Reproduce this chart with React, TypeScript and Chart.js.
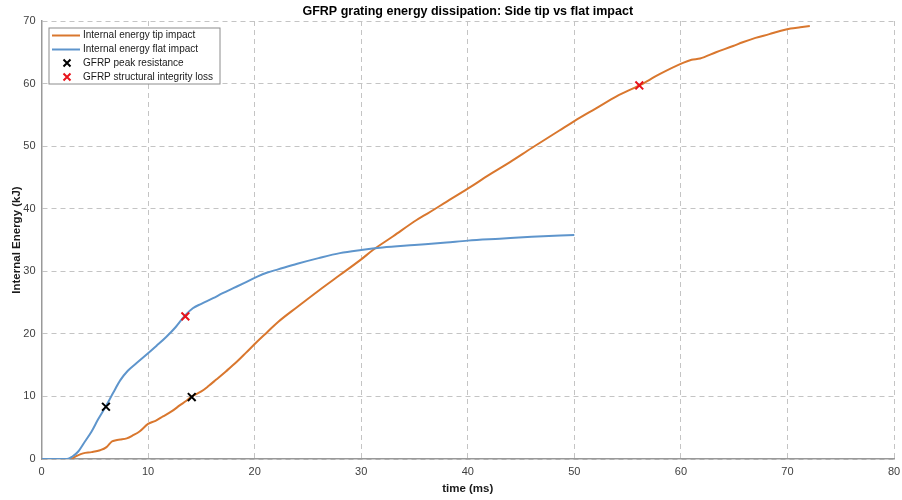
import React, { useEffect, useRef } from "react";
import { Chart, registerables } from "chart.js";

Chart.register(...registerables);

const TITLE = "GFRP grating energy dissipation: Side tip vs flat impact";
const X_LABEL = "time (ms)";
const Y_LABEL = "Internal Energy (kJ)";

const LEGEND_LABELS = [
  "Internal energy tip impact",
  "Internal energy flat impact",
  "GFRP peak resistance",
  "GFRP structural integrity loss",
];

// Tip impact (orange)
const tipTime = [0, 1, 2, 2.7, 3.3, 3.9, 4.7, 5.5, 6.1, 6.6, 7.0, 7.4, 8.0, 8.6, 9.2, 10.0, 10.7, 11.4, 12.2, 13.0, 13.6, 14.1, 15.0, 15.7, 16.4, 17.3, 18.3, 19.2, 20.2, 21.2, 22.2, 24, 26, 28, 30, 31.1, 33, 35.2, 36, 38, 40, 42, 44, 46, 48.6, 50, 52, 54, 56.1, 58, 60.2, 61.0, 61.8, 63.3, 64.9, 65.8, 67, 68.3, 69.3, 70.3, 71.2, 72.1];
const tipEnergy = [0, 0, 0, 0, 0.5, 0.9, 1.1, 1.4, 1.9, 2.8, 3.0, 3.1, 3.3, 3.8, 4.4, 5.6, 6.1, 6.8, 7.6, 8.6, 9.3, 10.0, 10.8, 11.7, 12.7, 14.0, 15.5, 17.0, 18.7, 20.3, 21.9, 24.3, 26.9, 29.4, 31.9, 33.4, 35.6, 38.2, 39.0, 41.1, 43.2, 45.4, 47.5, 49.7, 52.5, 54.0, 56.0, 58.0, 59.7, 61.5, 63.3, 63.8, 64.0, 65.0, 66.0, 66.6, 67.3, 67.9, 68.4, 68.8, 69.0, 69.2];

// Flat impact (blue)
const flatTime = [0, 1, 2, 2.4, 2.9, 3.45, 4.0, 4.7, 5.3, 6.0, 6.7, 7.4, 8.1, 8.9, 10.0, 10.8, 11.7, 12.6, 13.5, 14.2, 15.0, 16.1, 17.0, 18.0, 19.0, 20.2, 21.2, 22.2, 24, 26, 28, 30, 32, 35, 38, 40, 43, 46, 50];
const flatEnergy = [0, 0, 0, 0, 0.4, 1.2, 2.6, 4.4, 6.3, 8.3, 10.5, 12.6, 14.1, 15.3, 16.9, 18.1, 19.5, 21.1, 23.0, 24.1, 24.8, 25.7, 26.5, 27.3, 28.1, 29.1, 29.8, 30.3, 31.2, 32.1, 32.9, 33.4, 33.8, 34.2, 34.6, 34.9, 35.2, 35.5, 35.8];

// Markers
const peakTime = [6.05, 14.1];
const peakEnergy = [8.35, 9.9];
const lossTime = [13.5, 56.1];
const lossEnergy = [22.8, 59.7];

const X_TICKS = [0, 10, 20, 30, 40, 50, 60, 70, 80];
const Y_TICKS = [0, 10, 20, 30, 40, 50, 60, 70];

const ORANGE = "#D9772E";
const BLUE = "#5E95CC";
const BLACK = "#000000";
const RED = "#E8141B";
const FONT = "'Liberation Sans', Arial, sans-serif";

const toPts = (xs: number[], ys: number[]) => xs.map((x, i) => ({ x, y: ys[i] }));

function drawX(ctx: CanvasRenderingContext2D, x: number, y: number, r: number, color: string) {
  ctx.save();
  ctx.strokeStyle = color;
  ctx.lineWidth = 2;
  ctx.beginPath();
  ctx.moveTo(x - r, y - r);
  ctx.lineTo(x + r, y + r);
  ctx.moveTo(x + r, y - r);
  ctx.lineTo(x - r, y + r);
  ctx.stroke();
  ctx.restore();
}

const overlayPlugin = {
  id: "overlay",
  afterDraw(chart: any) {
    const ctx: CanvasRenderingContext2D = chart.ctx;
    const area = chart.chartArea;
    // title
    ctx.save();
    ctx.fillStyle = "#000";
    ctx.font = `bold 12.5px ${FONT}`;
    ctx.textAlign = "center";
    ctx.textBaseline = "middle";
    ctx.fillText(TITLE, (area.left + area.right) / 2, 12);
    ctx.restore();

    // legend box
    const bx = area.left + 7.5;
    const by = area.top + 7;
    const bw = 171;
    const bh = 56;
    ctx.save();
    ctx.fillStyle = "#ffffff";
    ctx.fillRect(bx, by, bw, bh);
    ctx.strokeStyle = "#8c8c8c";
    ctx.lineWidth = 1;
    ctx.strokeRect(bx, by, bw, bh);
    ctx.font = `10px ${FONT}`;
    ctx.textBaseline = "middle";
    ctx.textAlign = "left";
    const rows = [by + 7.5, by + 21.5, by + 35, by + 49];
    const styles = [
      { type: "line", color: ORANGE },
      { type: "line", color: BLUE },
      { type: "x", color: BLACK },
      { type: "x", color: RED },
    ];
    rows.forEach((ry, i) => {
      const s = styles[i];
      if (s.type === "line") {
        ctx.strokeStyle = s.color;
        ctx.lineWidth = 2;
        ctx.beginPath();
        ctx.moveTo(bx + 3, ry);
        ctx.lineTo(bx + 31, ry);
        ctx.stroke();
      } else {
        drawX(ctx, bx + 18, ry, 3.5, s.color);
      }
      ctx.fillStyle = "#1a1a1a";
      ctx.fillText(LEGEND_LABELS[i], bx + 34, ry);
    });
    ctx.restore();
  },
};

export default function App() {
  const ref = useRef<HTMLCanvasElement>(null);

  useEffect(() => {
    document.body.style.margin = "0";
    const canvas = ref.current;
    if (!canvas) return;
    const chart = new Chart(canvas, {
      type: "scatter",
      data: {
        datasets: [
          {
            label: LEGEND_LABELS[2],
            data: toPts(peakTime, peakEnergy),
            showLine: false,
            pointStyle: "crossRot",
            pointRadius: 5.5,
            pointBorderWidth: 2,
            borderColor: BLACK,
            backgroundColor: BLACK,
            order: 0,
          },
          {
            label: LEGEND_LABELS[3],
            data: toPts(lossTime, lossEnergy),
            showLine: false,
            pointStyle: "crossRot",
            pointRadius: 5.5,
            pointBorderWidth: 2,
            borderColor: RED,
            backgroundColor: RED,
            order: 0,
          },
          {
            label: LEGEND_LABELS[0],
            data: toPts(tipTime, tipEnergy),
            showLine: true,
            borderColor: ORANGE,
            backgroundColor: ORANGE,
            borderWidth: 2,
            pointRadius: 0,
            cubicInterpolationMode: "monotone",
            order: 2,
          },
          {
            label: LEGEND_LABELS[1],
            data: toPts(flatTime, flatEnergy),
            showLine: true,
            borderColor: BLUE,
            backgroundColor: BLUE,
            borderWidth: 2,
            pointRadius: 0,
            cubicInterpolationMode: "monotone",
            order: 1,
          },
        ],
      },
      options: {
        animation: false,
        responsive: false,
        maintainAspectRatio: false,
        layout: { padding: { top: 21, right: 8, left: 0, bottom: 0 } },
        plugins: {
          legend: { display: false },
          title: { display: false },
          tooltip: { enabled: false },
        },
        scales: {
          x: {
            type: "linear",
            min: 0,
            max: 80,
            afterBuildTicks: (s: any) => {
              s.ticks = X_TICKS.map((v) => ({ value: v }));
            },
            afterFit: (s: any) => {
              s.height = 41;
              s.paddingRight = 0;
              s.paddingLeft = 0;
            },
            ticks: {
              padding: 6,
              color: "#404040",
              font: { family: FONT, size: 11 },
              maxRotation: 0,
            },
            grid: {
              color: "#c4c4c4",
              lineWidth: 1,
              drawTicks: false,
            },
            border: { display: true, color: "#999999", width: 1.5, dash: [5, 4] },
            title: {
              display: true,
              text: X_LABEL,
              color: "#1a1a1a",
              font: { family: FONT, size: 11.5, weight: "bold" },
              padding: { top: 0, bottom: 4 },
            },
          },
          y: {
            type: "linear",
            min: 0,
            max: 70,
            afterBuildTicks: (s: any) => {
              s.ticks = Y_TICKS.map((v) => ({ value: v }));
            },
            afterFit: (s: any) => {
              s.width = 41.5;
              s.paddingTop = 0;
              s.paddingBottom = 0;
            },
            ticks: {
              padding: 6,
              color: "#404040",
              font: { family: FONT, size: 11 },
            },
            grid: {
              color: "#c4c4c4",
              lineWidth: 1,
              drawTicks: false,
            },
            border: { display: true, color: "#999999", width: 1.5, dash: [5, 4] },
            title: {
              display: true,
              text: Y_LABEL,
              color: "#1a1a1a",
              font: { family: FONT, size: 11.5, weight: "bold" },
              padding: { top: 10, bottom: 0 },
            },
          },
        },
      },
      plugins: [overlayPlugin],
    } as any);
    return () => chart.destroy();
  }, []);

  return (
    <div style={{ width: 902, height: 500, background: "#fff" }}>
      <canvas ref={ref} width={902} height={500} style={{ display: "block" }} />
    </div>
  );
}
